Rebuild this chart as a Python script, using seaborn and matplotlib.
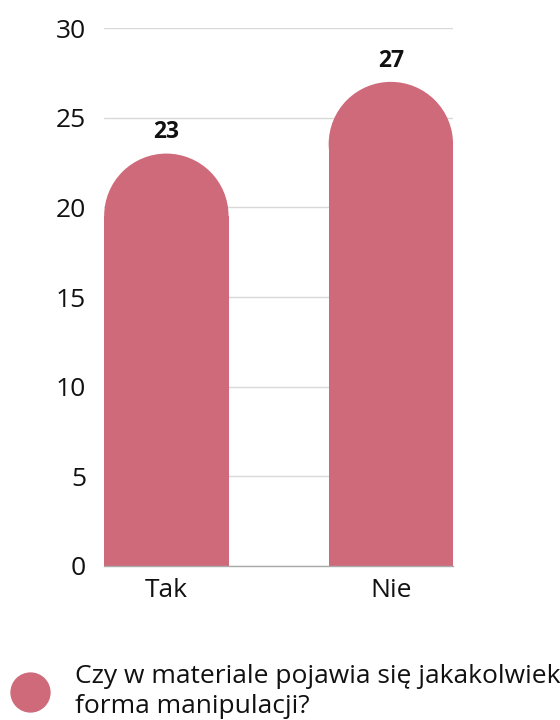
import numpy as np
import pandas as pd
import matplotlib
matplotlib.use("Agg")
import matplotlib.pyplot as plt
from matplotlib.patches import Ellipse
from matplotlib.lines import Line2D
import seaborn as sns

# data
categories = ["Tak", "Nie"]
values = [23, 27]
series_name = "Czy w materiale pojawia się jakakolwiek\nforma manipulacji?"
yticks = [0, 5, 10, 15, 20, 25, 30]

bar_color = "#ce6a7a"

sns.set_theme(style="white")
plt.rcParams["font.family"] = ["Open Sans", "DejaVu Sans"]

df = pd.DataFrame({"answer": categories, "count": values})

fig = plt.figure(figsize=(5.6, 7.2), dpi=100)
ax = fig.add_axes([0.186, 0.214, 0.623, 0.747])

sns.barplot(data=df, x="answer", y="count", color=bar_color, width=0.554,
            saturation=1, ax=ax, zorder=2, linewidth=0)

ax.set_ylim(0, 30)
ax.set_xlim(-0.277, 1.277)
ax.set_yticks(yticks)
ax.set_xlabel("")
ax.set_ylabel("")

# grid
ax.yaxis.grid(True, color="#d9d9d9", linewidth=1)
ax.set_axisbelow(True)
for side in ["top", "right", "left"]:
    ax.spines[side].set_visible(False)
ax.spines["bottom"].set_color("#aaaaaa")
ax.spines["bottom"].set_linewidth(1)
ax.tick_params(axis="y", length=0, pad=13, labelsize=19, colors="#111111")
ax.tick_params(axis="x", length=0, pad=9, labelsize=19, colors="#111111")

# rounded tops: shorten each bar by the cap radius and put an ellipse on it
fig.canvas.draw()
to_disp = ax.transData
for patch in list(ax.patches):
    x0 = patch.get_x()
    w = patch.get_width()
    h = patch.get_height()
    p0 = to_disp.transform((x0, 0))
    p1 = to_disp.transform((x0 + w, 0))
    r_px = (p1[0] - p0[0]) / 2
    r_data = to_disp.inverted().transform((p0[0], p0[1] + r_px))[1]
    patch.set_height(h - r_data)
    cap = Ellipse((x0 + w / 2, h - r_data), width=w, height=2 * r_data,
                  facecolor=bar_color, edgecolor="none", linewidth=0, zorder=2)
    ax.add_patch(cap)

# value labels
for i, v in enumerate(values):
    ax.annotate(str(v), xy=(i, v), xytext=(0, 11), textcoords="offset points",
                ha="center", va="baseline", fontsize=16.5, fontweight="bold",
                color="#111111")

# legend
handle = Line2D([], [], marker="o", linestyle="", markersize=28,
                markerfacecolor=bar_color, markeredgecolor=bar_color)
leg = fig.legend([handle], [series_name], loc="upper left",
                 bbox_to_anchor=(0.006, 0.093), frameon=False, fontsize=19,
                 handletextpad=1.1, handlelength=1.2, borderaxespad=0)
for t in leg.get_texts():
    t.set_linespacing(1.3)
    t.set_color("#111111")

fig.savefig("out.png", dpi=100)
